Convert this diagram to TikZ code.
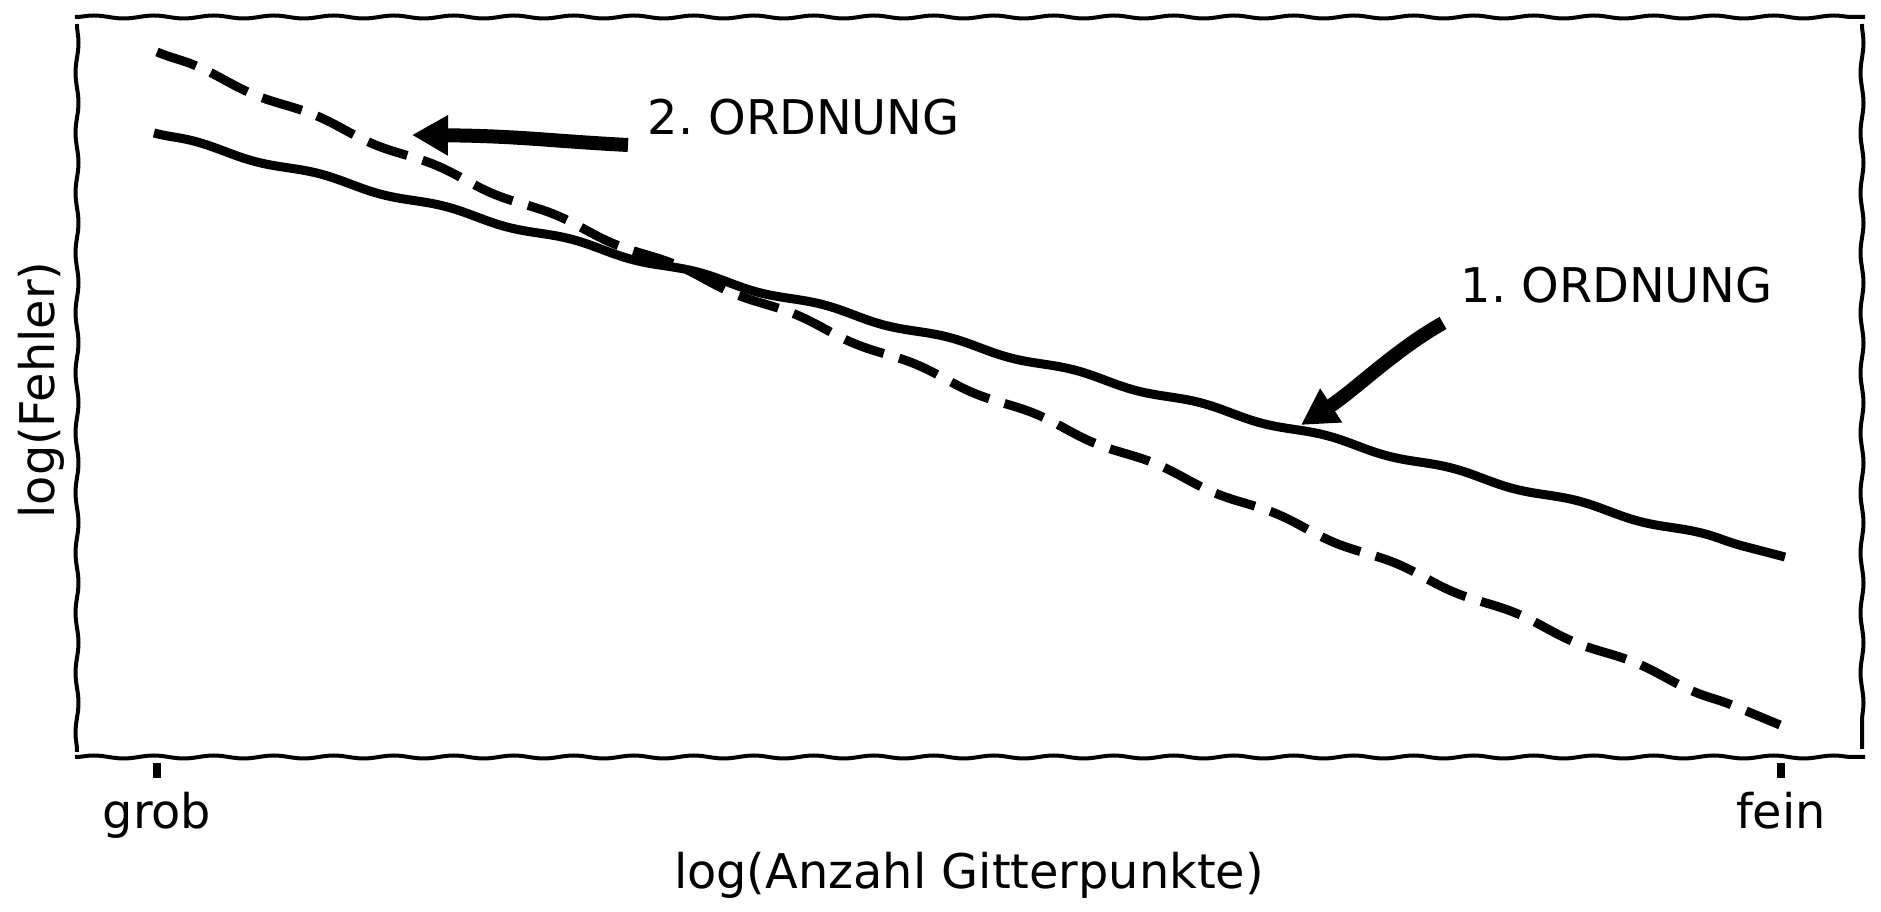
\documentclass[tikz,border=0pt]{standalone}
\usepackage{fontspec}
\setmainfont{DejaVu Sans}
\usetikzlibrary{arrows.meta,decorations.pathmorphing}
\frenchspacing

\tikzset{
	spine/.style={line width=0.4mm,decorate,decoration={snake,amplitude=0.15mm,segment length=6mm}},
	order1/.style={line width=0.9mm,decorate,decoration={snake,amplitude=0.22mm,segment length=13mm}},
	order2/.style={order1,dash pattern=on 4.15mm off 1.6mm},
	pointer/.style={line width=1.4mm,-{Triangle[length=3.6mm,width=3.8mm]}},
	tickmark/.style={line width=0.8mm}
}

\begin{document}
\begin{tikzpicture}[font=\fontsize{13.6}{16}\selectfont]
	\useasboundingbox (0,0) rectangle (18.81,9.12);

	% frame
	\draw[spine] (0.75,8.95) -- (18.65,8.95);
	\draw[spine] (0.75,1.55) -- (18.65,1.55);
	\draw[spine] (0.77,8.88) -- (0.77,1.60);
	\draw[spine] (18.62,8.88) -- (18.62,1.63);

	% ticks and axis labels
	\draw[tickmark] (1.57,1.49) -- (1.57,1.34) node[below,inner sep=2.8pt] (grob){grob};
	\draw[tickmark] (17.81,1.49) -- (17.81,1.34) node[below,inner sep=2.8pt] (fein){fein};
	\node[anchor=base] (xlab) at (9.69,0.23) {log(Anzahl Gitterpunkte)};
	\node[anchor=base,rotate=90] (ylab) at (0.55,5.22) {log(Fehler)};

	% curves
	\draw[order1] (1.54,7.79) -- (17.85,3.55);
	\draw[order2] (1.57,8.60) -- (17.80,1.87);

	% annotations
	\node[anchor=base west,inner sep=0] (ord2) at (6.47,7.77) {2. ORDNUNG};
	\node[anchor=base west,inner sep=0] (ord1) at (14.60,6.09) {1. ORDNUNG};
	\coordinate (from2) at (6.28,7.67);
	\coordinate (to2) at (4.12,7.77);
	\coordinate (from1) at (14.43,5.89);
	\coordinate (to1) at (13.01,4.87);
	\draw[pointer] (from2) .. controls (5.5,7.71) and (5.2,7.76) .. (to2);
	\draw[pointer] (from1) .. controls (13.95,5.62) and (13.55,5.22) .. (to1);
\end{tikzpicture}
\end{document}
